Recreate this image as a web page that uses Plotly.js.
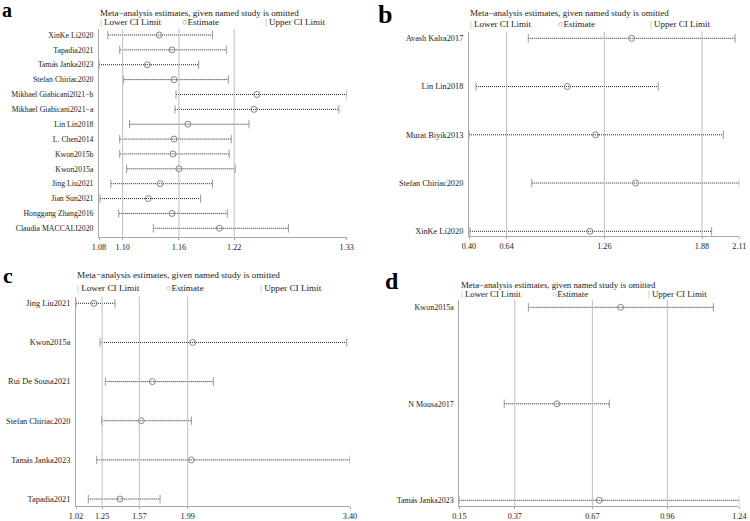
<!DOCTYPE html>
<html>
<head>
<meta charset="utf-8">
<script src="https://cdn.plot.ly/plotly-3.0.1.min.js"></script>
<style>
  html, body { margin: 0; padding: 0; background: #fff; }
  #chart { width: 750px; height: 521px; }
</style>
</head>
<body>
<div id="chart"></div>
<script>
// ---------- Panel a: leave-one-out estimates ----------
const aStudies = ['XinKe Li2020', 'Tapadia2021', 'Tamás Janka2023', 'Stefan Chiriac2020',
  'Mikhael Giabicani2021−b', 'Mikhael Giabicani2021−a', 'Lin Lin2018', 'L. Chen2014',
  'Kwon2015b', 'Kwon2015a', 'Jing Liu2021', 'Jian Sun2021', 'Honggang Zhang2016', 'Claudia MACCALI2020'];
const aLower = [1.089, 1.101, 1.080, 1.105, 1.158, 1.157, 1.111, 1.101, 1.101, 1.108, 1.092, 1.081, 1.100, 1.135];
const aEst   = [1.141, 1.154, 1.129, 1.156, 1.240, 1.237, 1.170, 1.156, 1.155, 1.161, 1.142, 1.130, 1.154, 1.202];
const aUpper = [1.195, 1.209, 1.181, 1.211, 1.331, 1.323, 1.232, 1.214, 1.212, 1.218, 1.195, 1.183, 1.210, 1.272];
const aCombined = [1.104, 1.161, 1.217];
const aTickVals = [1.080, 1.104, 1.161, 1.217, 1.331];
const aTickText = ['1.08', '1.10', '1.16', '1.22', '1.33'];

// ---------- Panel b ----------
const bStudies = ['Avash Kalra2017', 'Lin Lin2018', 'Murat Biyik2013', 'Stefan Chiriac2020', 'XinKe Li2020'];
const bLower = [0.775, 0.444, 0.400, 0.797, 0.406];
const bEst   = [1.429, 1.022, 1.201, 1.454, 1.165];
const bUpper = [2.083, 1.597, 2.009, 2.110, 1.935];
const bCombined = [0.638, 1.256, 1.874];
const bTickVals = [0.400, 0.638, 1.256, 1.874, 2.110];
const bTickText = ['0.40', '0.64', '1.26', '1.88', '2.11'];

// ---------- Panel c ----------
const cStudies = ['Jing Liu2021', 'Kwon2015a', 'Rui De Sousa2021', 'Stefan Chiriac2020', 'Tamás Janka2023', 'Tapadia2021'];
const cLower = [1.020, 1.229, 1.275, 1.243, 1.200, 1.127];
const cEst   = [1.176, 2.034, 1.683, 1.587, 2.022, 1.402];
const cUpper = [1.359, 3.372, 2.213, 2.022, 3.400, 1.750];
const cCombined = [1.247, 1.570, 1.990];
const cTickVals = [1.020, 1.247, 1.570, 1.990, 3.400];
const cTickText = ['1.02', '1.25', '1.57', '1.99', '3.40'];

// ---------- Panel d ----------
const dStudies = ['Kwon2015a', 'N Mousa2017', 'Tamás Janka2023'];
const dLower = [0.419, 0.325, 0.150];
const dEst   = [0.778, 0.530, 0.695];
const dUpper = [1.139, 0.734, 1.240];
const dCombined = [0.366, 0.668, 0.960];
const dTickVals = [0.150, 0.366, 0.668, 0.960, 1.240];
const dTickText = ['0.15', '0.37', '0.67', '0.96', '1.24'];

const W = 750, H = 521;
const SERIF = 'Liberation Serif, Times New Roman, serif';
const px = v => v / W;
const py = v => 1 - v / H;

const traces = [];
const shapes = [];
const annotations = [];
const layout = {
  width: W, height: H, autosize: false,
  margin: { l: 0, r: 0, t: 0, b: 0 },
  paper_bgcolor: '#fff', plot_bgcolor: '#fff',
  showlegend: false,
  font: { family: SERIF, size: 9, color: '#222' }
};

function addPanel(idx, studies, lower, est, upper, combined, tickVals, tickText, g) {
  const xa = idx === 1 ? 'x' : 'x' + idx;
  const ya = idx === 1 ? 'y' : 'y' + idx;
  const xKey = idx === 1 ? 'xaxis' : 'xaxis' + idx;
  const yKey = idx === 1 ? 'yaxis' : 'yaxis' + idx;
  const n = studies.length;
  const step = n > 1 ? (g.lastRow - g.firstRow) / (n - 1) : 1;

  // dotted CI segments
  const lx = [], ly = [];
  studies.forEach((s, i) => { lx.push(lower[i], upper[i], null); ly.push(s, s, null); });
  traces.push({ type: 'scatter', mode: 'lines', x: lx, y: ly, xaxis: xa, yaxis: ya,
    line: { color: '#1e1e1e', width: 1, dash: '1px,1px' }, hoverinfo: 'skip' });
  // CI limit caps
  traces.push({ type: 'scatter', mode: 'markers', x: lower.concat(upper), y: studies.concat(studies),
    xaxis: xa, yaxis: ya,
    marker: { symbol: 'line-ns-open', size: 6, color: '#9a9a9a', line: { color: '#9a9a9a', width: 1 } } });
  // point estimates
  traces.push({ type: 'scatter', mode: 'markers', x: est, y: studies, xaxis: xa, yaxis: ya,
    marker: { symbol: 'circle-open', size: 6, color: '#858585', line: { color: '#858585', width: 1 } } });

  layout[xKey] = {
    domain: [px(g.left), px(g.right)], anchor: ya,
    range: [Math.min(...lower), Math.max(...upper)],
    tickmode: 'array', tickvals: tickVals, ticktext: tickText,
    showgrid: false, zeroline: false,
    showline: true, linecolor: '#a8a8a8', linewidth: 1,
    ticks: 'outside', ticklen: 2, tickcolor: '#a8a8a8', tickwidth: 1,
    tickfont: { family: SERIF, size: 8.2, color: '#222' }
  };
  layout[yKey] = {
    domain: [py(g.bottom), py(g.top)], anchor: xa,
    type: 'category', categoryarray: studies, categoryorder: 'array',
    range: [(g.bottom - g.firstRow) / step, (g.top - g.firstRow) / step],
    showgrid: false, zeroline: false,
    showline: true, linecolor: '#a8a8a8', linewidth: 1,
    ticks: '', ticklabelstandoff: 3,
    tickfont: { family: SERIF, size: g.labelSize, color: '#222' }
  };

  // combined-estimate reference lines
  combined.forEach(v => shapes.push({ type: 'line', xref: xa, yref: ya + ' domain',
    x0: v, x1: v, y0: 0, y1: 1, line: { color: '#bdbdbd', width: 1 } }));

  // heading and key
  annotations.push({ xref: 'paper', yref: 'paper', x: px(g.titleX), y: py(g.titleY),
    xanchor: 'left', yanchor: 'middle', showarrow: false, borderpad: 0,
    text: 'Meta−analysis estimates, given named study is omitted',
    font: { family: SERIF, size: g.titleSize, color: '#222' } });
  const keys = [
    [g.titleX, '<span style="color:#9a9a9a">|</span> Lower CI Limit'],
    [g.estX, '<span style="color:#8a8a8a">○</span>Estimate'],
    [g.upX, '<span style="color:#9a9a9a">|</span> Upper CI Limit']
  ];
  keys.forEach(k => annotations.push({ xref: 'paper', yref: 'paper', x: px(k[0]), y: py(g.keyY),
    xanchor: 'left', yanchor: 'middle', showarrow: false, borderpad: 0, text: k[1],
    font: { family: SERIF, size: g.titleSize, color: '#222' } }));

  // panel letter
  annotations.push({ xref: 'paper', yref: 'paper', x: px(g.letterX), y: py(g.letterY),
    xanchor: 'left', yanchor: 'middle', showarrow: false, borderpad: 0, text: '<b>' + g.letter + '</b>',
    font: { family: SERIF, size: g.letterSize, color: '#000' } });
}

addPanel(1, aStudies, aLower, aEst, aUpper, aCombined, aTickVals, aTickText,
  { left: 99, right: 346.7, top: 29, bottom: 236.7, firstRow: 35, lastRow: 228.3,
    titleX: 99, titleY: 12.7, keyY: 21.7, estX: 181, upX: 264, titleSize: 9, labelSize: 7.8,
    letter: 'a', letterX: 1, letterY: 10, letterSize: 20 });
addPanel(2, bStudies, bLower, bEst, bUpper, bCombined, bTickVals, bTickText,
  { left: 469, right: 739.3, top: 31.7, bottom: 236, firstRow: 38.3, lastRow: 231.3,
    titleX: 469, titleY: 12.7, keyY: 24, estX: 557, upX: 649, titleSize: 9, labelSize: 8.3,
    letter: 'b', letterX: 377, letterY: 14.6, letterSize: 26 });
addPanel(3, cStudies, cLower, cEst, cUpper, cCombined, cTickVals, cTickText,
  { left: 76, right: 350, top: 296.7, bottom: 506.3, firstRow: 303.3, lastRow: 499,
    titleX: 76, titleY: 275, keyY: 288.3, estX: 165, upX: 259, titleSize: 9.2, labelSize: 8.3,
    letter: 'c', letterX: 2, letterY: 275.5, letterSize: 22 });
addPanel(4, dStudies, dLower, dEst, dUpper, dCombined, dTickVals, dTickText,
  { left: 459.3, right: 739.3, top: 300, bottom: 506.3, firstRow: 307.3, lastRow: 500.3,
    titleX: 460, titleY: 284.5, keyY: 293.5, estX: 551, upX: 647, titleSize: 8.8, labelSize: 8,
    letter: 'd', letterX: 384, letterY: 280.7, letterSize: 24 });

layout.shapes = shapes;
layout.annotations = annotations;

Plotly.newPlot('chart', traces, layout, { staticPlot: true, displayModeBar: false });
</script>
</body>
</html>
